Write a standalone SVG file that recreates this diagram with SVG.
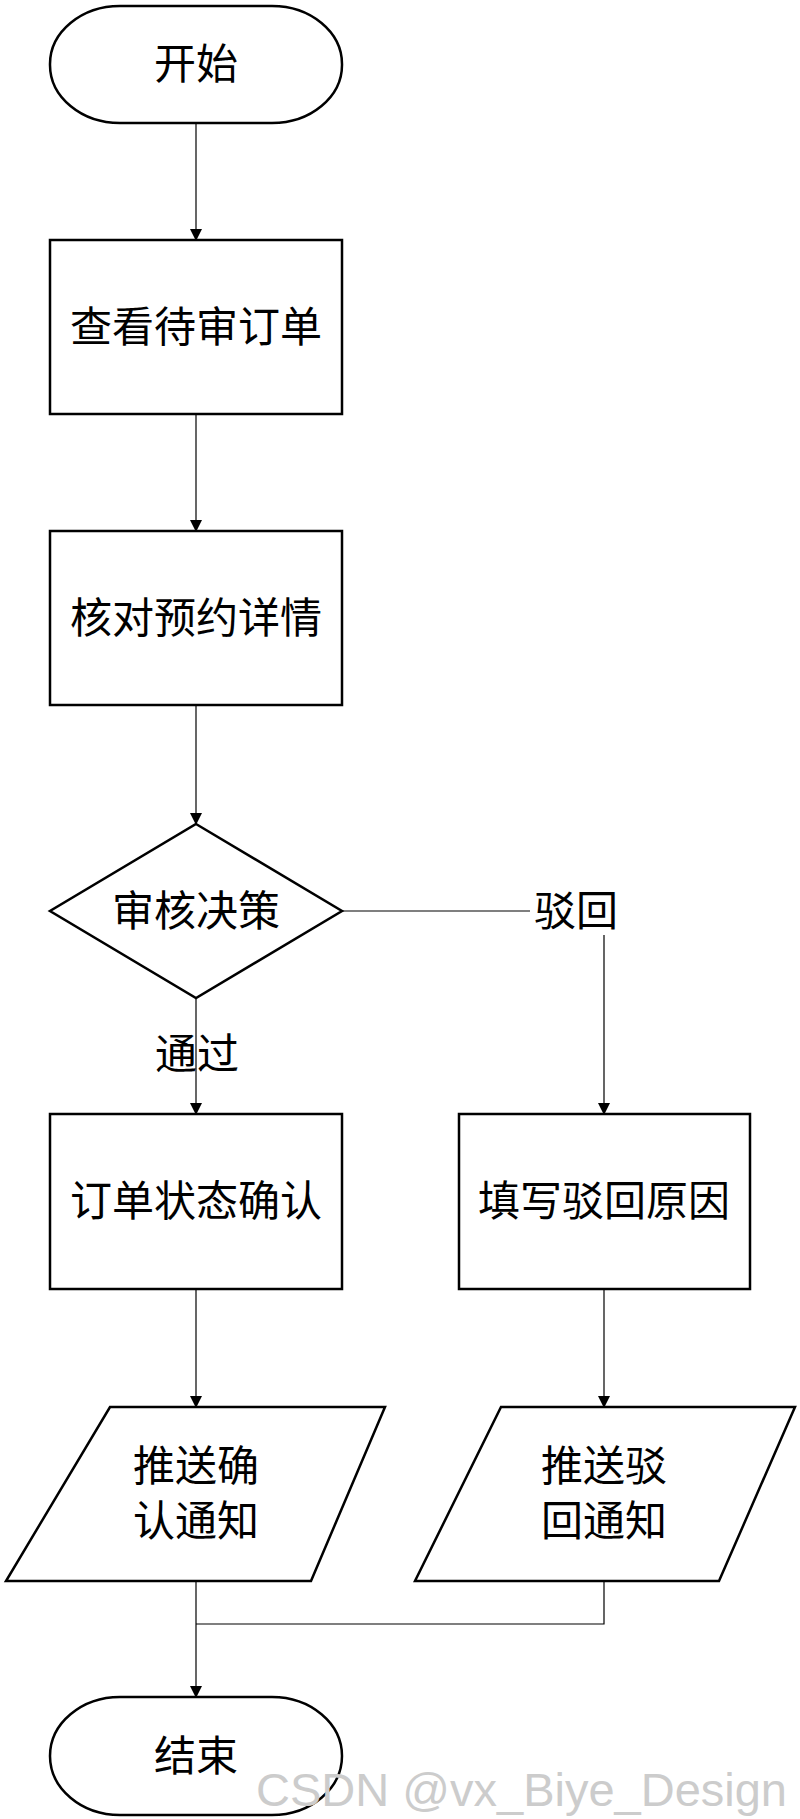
<svg xmlns="http://www.w3.org/2000/svg" width="800" height="1819" viewBox="0 0 800 1819">
<style>
.s{fill:#fff;stroke:#000;stroke-width:2.5}
.t{font-family:"Noto Sans CJK SC",sans-serif;font-size:42px;text-anchor:middle;fill:#000}
.c{fill:none;stroke:#000;stroke-width:1.2}
</style>
<defs><marker id="a" markerWidth="12" markerHeight="12" refX="11" refY="6" orient="auto" markerUnits="userSpaceOnUse"><path d="M0,0 L12,6 L0,12 Z" fill="#000"/></marker></defs>
<rect width="800" height="1819" fill="#fff"/>
<g id="connectors">
<line class="c" x1="196" y1="123" x2="196" y2="240" marker-end="url(#a)"/>
<line class="c" x1="196" y1="414" x2="196" y2="531" marker-end="url(#a)"/>
<line class="c" x1="196" y1="705" x2="196" y2="824" marker-end="url(#a)"/>
<line class="c" x1="196" y1="998" x2="196" y2="1114" marker-end="url(#a)"/>
<polyline class="c" points="342,911 604,911 604,1114" marker-end="url(#a)"/>
<line class="c" x1="196" y1="1289" x2="196" y2="1407" marker-end="url(#a)"/>
<line class="c" x1="604" y1="1289" x2="604" y2="1407" marker-end="url(#a)"/>
<line class="c" x1="196" y1="1581" x2="196" y2="1697" marker-end="url(#a)"/>
<polyline class="c" points="196,1624 604,1624 604,1581"/>
<rect x="530" y="885" width="92" height="50" fill="#fff"/>
<text class="t" x="576" y="926">驳回</text>
<text class="t" x="197" y="1069">通过</text>
</g>
<g id="start"><rect class="s" x="50" y="6" width="292" height="117" rx="70" ry="58"/><text class="t" x="196" y="79">开始</text></g>
<g id="n1"><rect class="s" x="50" y="240" width="292" height="174"/><text class="t" x="196" y="342">查看待审订单</text></g>
<g id="n2"><rect class="s" x="50" y="531" width="292" height="174"/><text class="t" x="196" y="633">核对预约详情</text></g>
<g id="d"><polygon class="s" points="196,824 342,911 196,998 50,911"/><text class="t" x="196" y="926">审核决策</text></g>
<g id="n3"><rect class="s" x="50" y="1114" width="292" height="175"/><text class="t" x="196" y="1216">订单状态确认</text></g>
<g id="n4"><rect class="s" x="459" y="1114" width="291" height="175"/><text class="t" x="604" y="1216">填写驳回原因</text></g>
<g id="p1"><polygon class="s" points="110,1407 385,1407 311,1581 6,1581"/><text class="t" x="196" y="1481">推送确</text><text class="t" x="196" y="1536">认通知</text></g>
<g id="p2"><polygon class="s" points="501,1407 795,1407 719,1581 415,1581"/><text class="t" x="604" y="1481">推送驳</text><text class="t" x="604" y="1536">回通知</text></g>
<g id="end"><rect class="s" x="50" y="1697" width="292" height="118" rx="70" ry="59"/><text class="t" x="196" y="1771">结束</text></g>
<text x="787" y="1806" font-family="Liberation Sans,sans-serif" font-size="47" fill="#ccc" text-anchor="end">CSDN @vx_Biye_Design</text>
</svg>
